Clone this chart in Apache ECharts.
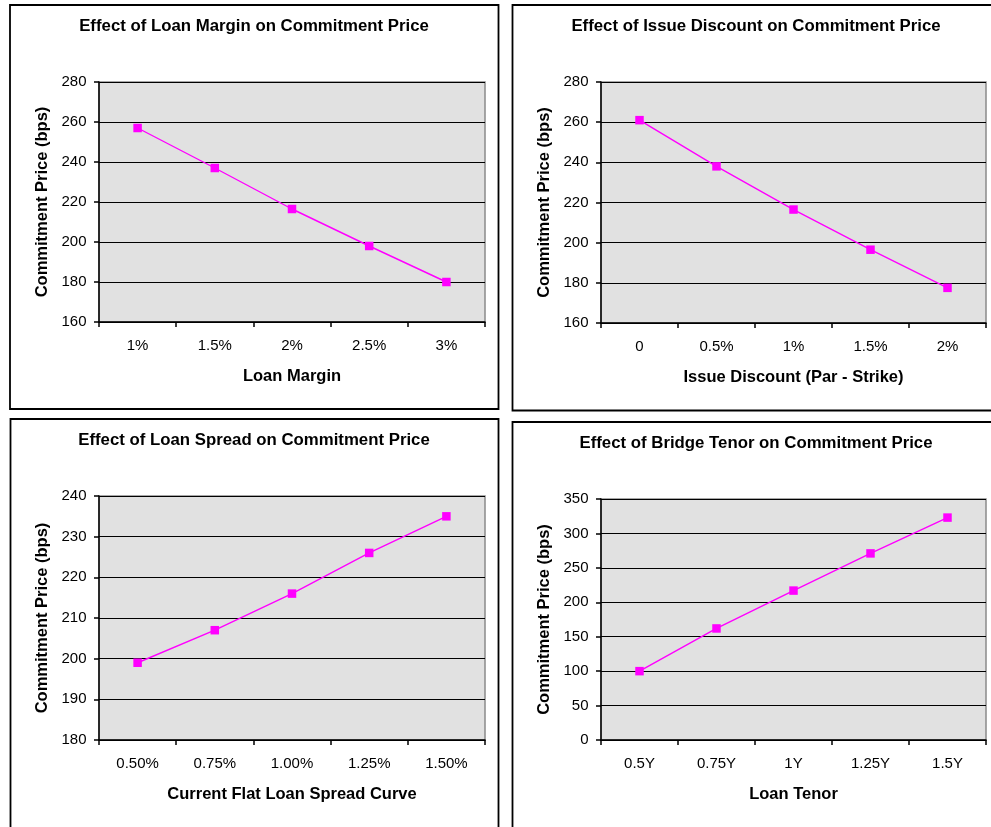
<!DOCTYPE html>
<html>
<head>
<meta charset="utf-8">
<script src="https://cdn.jsdelivr.net/npm/echarts@6/dist/echarts.min.js"></script>
<style>
  html, body { margin: 0; padding: 0; background: #ffffff; }
  #chart { width: 991px; height: 827px; }
</style>
</head>
<body>
<div id="chart"></div>
<script>
// Sensitivity of the commitment price (bps) to four deal inputs
const marginCats = ['1%', '1.5%', '2%', '2.5%', '3%'];
const marginVals = [257, 237, 216.5, 198, 180];

const discountCats = ['0', '0.5%', '1%', '1.5%', '2%'];
const discountVals = [261, 238, 216.5, 196.5, 177.5];

const spreadCats = ['0.50%', '0.75%', '1.00%', '1.25%', '1.50%'];
const spreadVals = [199, 207, 216, 226, 235];

const tenorCats = ['0.5Y', '0.75Y', '1Y', '1.25Y', '1.5Y'];
const tenorVals = [100, 162, 217, 271, 323];

const titles = [
  'Effect of Loan Margin on Commitment Price',
  'Effect of Issue Discount on Commitment Price',
  'Effect of Loan Spread on Commitment Price',
  'Effect of Bridge Tenor on Commitment Price'
];
const xNames = ['Loan Margin', 'Issue Discount (Par - Strike)', 'Current Flat Loan Spread Curve', 'Loan Tenor'];
const yName = 'Commitment Price (bps)';

const FONT = '"Liberation Sans", Arial, Helvetica, sans-serif';

const panels = [
  { cats: marginCats,   vals: marginVals,   min: 160, max: 280, step: 20,
    grid: { left: 99,  top: 82,  width: 386, height: 240 }, box: [10, 5, 488.5, 404],  titleX: 254, titleY: 18 },
  { cats: discountCats, vals: discountVals, min: 160, max: 280, step: 20,
    grid: { left: 601, top: 82,  width: 385, height: 241 }, box: [512.5, 5, 500, 405.5], titleX: 756, titleY: 18 },
  { cats: spreadCats,   vals: spreadVals,   min: 180, max: 240, step: 10,
    grid: { left: 99,  top: 496, width: 386, height: 244 }, box: [10.5, 419, 488, 420],  titleX: 254, titleY: 432 },
  { cats: tenorCats,    vals: tenorVals,    min: 0,   max: 350, step: 50,
    grid: { left: 601, top: 499, width: 385, height: 241 }, box: [512.5, 422, 500, 420], titleX: 756, titleY: 435 }
];

const option = {
  backgroundColor: '#ffffff',
  animation: false,
  textStyle: { fontFamily: FONT },
  title: panels.map((p, i) => ({
    text: titles[i],
    left: p.titleX,
    top: p.titleY,
    textAlign: 'center',
    padding: 0,
    textStyle: { fontFamily: FONT, fontSize: 16.8, fontWeight: 'bold', color: '#000000' }
  })),
  grid: panels.map(p => Object.assign({
    show: true,
    backgroundColor: '#e1e1e1',
    borderColor: '#8a8a8a',
    borderWidth: 1.5,
    containLabel: false
  }, p.grid)),
  xAxis: panels.map((p, i) => ({
    type: 'category',
    gridIndex: i,
    data: p.cats,
    boundaryGap: true,
    name: xNames[i],
    nameLocation: 'middle',
    nameGap: 46,
    nameTextStyle: { fontFamily: FONT, fontSize: 16.5, fontWeight: 'bold', color: '#000000' },
    axisLine: { show: true, lineStyle: { color: '#000000', width: 1.5 } },
    axisTick: { show: true, alignWithLabel: false, length: 5, lineStyle: { color: '#000000', width: 1.5 } },
    axisLabel: { color: '#000000', fontFamily: FONT, fontSize: 15, margin: 16, interval: 0 },
    splitLine: { show: false }
  })),
  yAxis: panels.map((p, i) => ({
    type: 'value',
    gridIndex: i,
    min: p.min,
    max: p.max,
    interval: p.step,
    name: yName,
    nameLocation: 'middle',
    nameGap: 48,
    nameTextStyle: { fontFamily: FONT, fontSize: 16.5, fontWeight: 'bold', color: '#000000' },
    axisLine: { show: true, lineStyle: { color: '#000000', width: 1.5 } },
    axisTick: { show: true, length: 5, lineStyle: { color: '#000000', width: 1.5 } },
    axisLabel: { color: '#000000', fontFamily: FONT, fontSize: 15, margin: 12.5 },
    splitLine: { show: true, lineStyle: { color: '#000000', width: 1 } }
  })),
  series: panels.map((p, i) => ({
    type: 'line',
    xAxisIndex: i,
    yAxisIndex: i,
    data: p.vals,
    symbol: 'rect',
    symbolSize: 8.5,
    showSymbol: true,
    lineStyle: { color: '#ff00ff', width: 1.4 },
    itemStyle: { color: '#ff00ff' },
    z: 3
  })),
  graphic: panels.map(p => ({
    type: 'rect',
    silent: true,
    shape: { x: p.box[0], y: p.box[1], width: p.box[2], height: p.box[3] },
    style: { fill: null, stroke: '#000000', lineWidth: 1.8 },
    z: 100
  }))
};

const chart = echarts.init(document.getElementById('chart'), null, { renderer: 'canvas' });
chart.setOption(option);
</script>
</body>
</html>
